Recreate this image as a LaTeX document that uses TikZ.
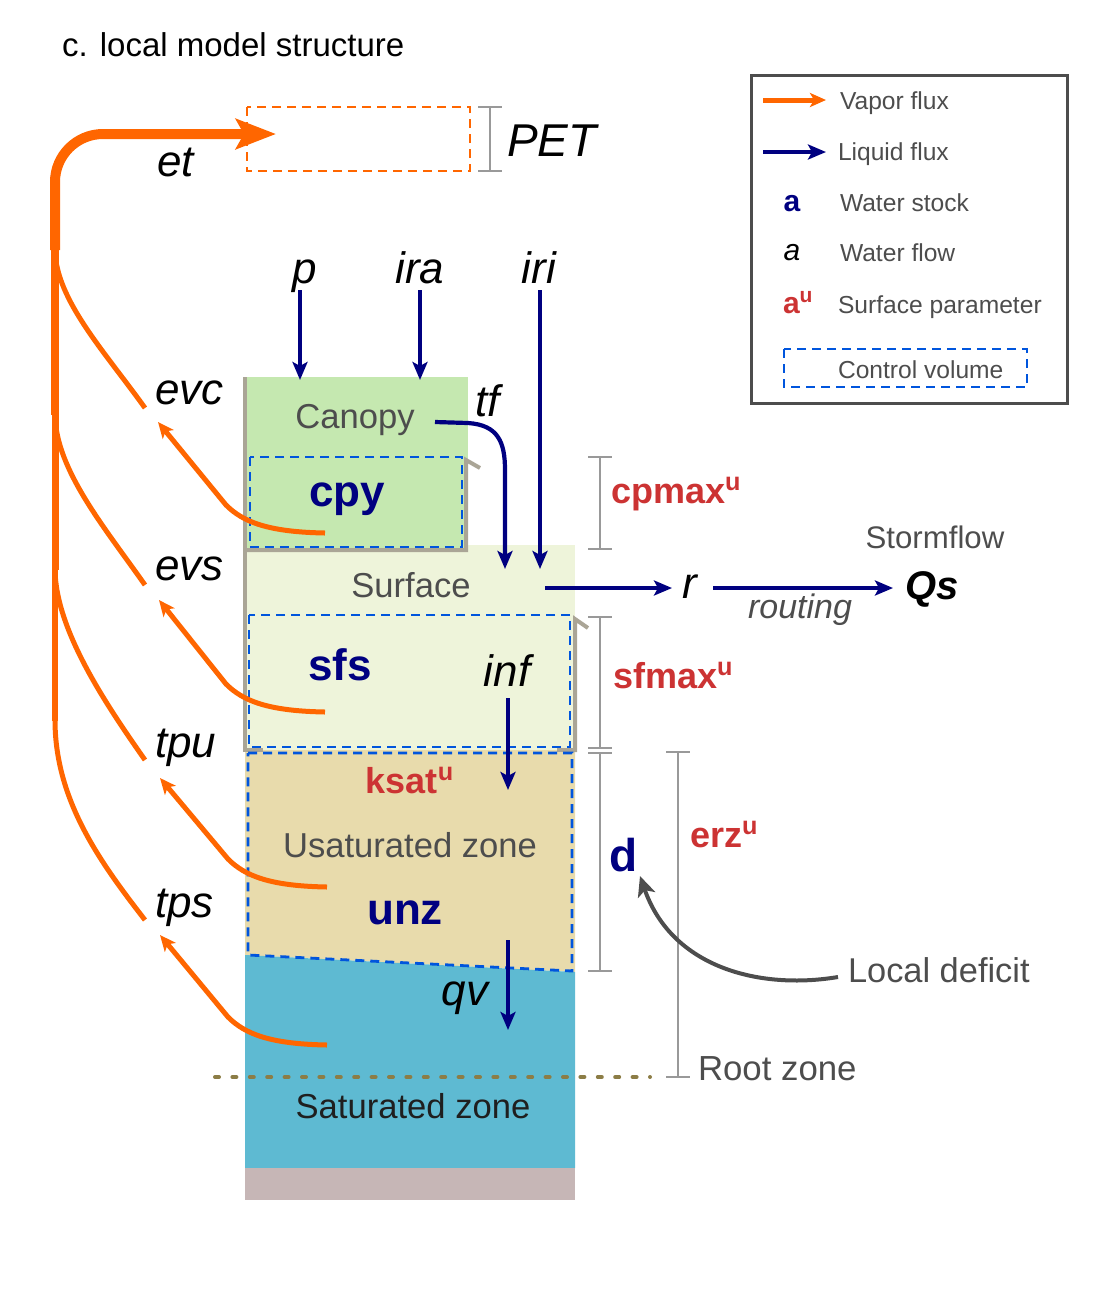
\documentclass[tikz,border=0pt]{standalone}
\usepackage{fontspec}
\setmainfont{Liberation Sans}
\usetikzlibrary{arrows.meta}
\definecolor{vap}{HTML}{FF6600}
\definecolor{liq}{HTML}{000080}
\definecolor{par}{HTML}{CC3333}
\definecolor{cvb}{HTML}{0055DD}
\definecolor{canf}{HTML}{C5E8B0}
\definecolor{surff}{HTML}{EEF4DA}
\definecolor{unsf}{HTML}{E8DBAC}
\definecolor{satf}{HTML}{5EBAD2}
\definecolor{bedf}{HTML}{C6B6B6}
\definecolor{wallc}{HTML}{AAA596}
\definecolor{brk}{HTML}{999999}
\definecolor{txg}{HTML}{4D4D4D}
\definecolor{dotc}{HTML}{8C7D46}
\newcommand{\fsz}[1]{\fontsize{#1}{#1}\selectfont}
\tikzset{
  lbl/.style={inner sep=0pt, outer sep=0pt},
  flowlbl/.style={lbl, font=\fsz{22pt}\itshape, text=black},
  storelbl/.style={lbl, font=\fsz{22pt}\bfseries, text=liq},
  zonelbl/.style={lbl, font=\fsz{17.3pt}, text=txg},
  parlbl/.style={lbl, font=\fsz{18pt}\bfseries, text=par},
  leglbl/.style={lbl, font=\fsz{12.3pt}, text=txg, anchor=base west},
  liqarrow/.style={draw=liq, line width=2.1pt, -{Stealth[length=9pt,width=7.5pt,inset=2pt]}},
  vaparrow/.style={draw=vap, line width=2.5pt, -{Stealth[length=8pt,width=7pt,inset=2pt]}},
  vapline/.style={draw=vap, line width=2.5pt},
  cvbox/.style={draw=cvb, line width=1.4pt, dash pattern=on 4.5pt off 3pt},
  wallline/.style={draw=wallc, line width=2pt},
  brkline/.style={draw=brk, line width=1.4pt},
}
\begin{document}
\begin{tikzpicture}[x=0.5pt,y=-0.5pt]
\useasboundingbox (0,0) rectangle (1102,1303);

% ---------- soil column fills ----------
\fill[surff] (245,545) rectangle (575,750);
\fill[canf] (245,377) rectangle (468,550);
\fill[unsf] (245,750) -- (575,750) -- (575,972) -- (245,955) -- cycle;
\fill[satf] (245,955) -- (575,972) -- (575,1168) -- (245,1168) -- cycle;
\fill[bedf] (245,1168) rectangle (575,1200);

% ---------- walls ----------
\draw[wallline] (245,377) -- (245,752);
\draw[wallline] (245,550) -- (466,550) -- (466,460) -- (480,468);
\draw[wallline] (575,752) -- (575,619) -- (588,628);
\draw[wallline] (245,750) -- (263,750);
\draw[wallline] (557,750) -- (575,750);

% ---------- control volumes ----------
\draw[cvbox] (250,457) rectangle (462,547);
\draw[cvbox] (249,615) rectangle (570,747);
\draw[cvbox] (248,753) -- (572,753) -- (572,971) -- (248,955) -- cycle;
\draw[draw=vap, line width=1.2pt, dash pattern=on 4.5pt off 3pt] (247,107) rectangle (470,171);

% ---------- root zone dotted line ----------
\draw[dotc, line width=2pt, line cap=round, dash pattern=on 2pt off 6.7pt] (215,1077) -- (650,1077);

% ---------- brackets ----------
\draw[brkline] (490,107) -- (490,171) (478,107) -- (502,107) (478,171) -- (502,171);
\draw[brkline] (600,457) -- (600,549) (588,457) -- (612,457) (588,549) -- (612,549);
\draw[brkline] (600,617) -- (600,748) (588,617) -- (612,617) (588,748) -- (612,748);
\draw[brkline] (600,753) -- (600,971) (588,753) -- (612,753) (588,971) -- (612,971);
\draw[brkline] (678,752) -- (678,1077) (666,752) -- (690,752) (666,1077) -- (690,1077);

% ---------- text labels ----------
\node[lbl, font=\fsz{16.5pt}, anchor=base west] (title) at (62,56) {c. local model structure};
\node[flowlbl, anchor=base west] (et) at (157,176) {et};
\node[lbl, font=\fsz{23pt}\itshape, anchor=base west] (pet) at (507,156) {PET};
\node[flowlbl, anchor=base] (p) at (305,283) {p};
\node[flowlbl, anchor=base] (ira) at (420,283) {ira};
\node[flowlbl, anchor=base] (iri) at (539,283) {iri};
\node[flowlbl, anchor=base west] (evc) at (155,404) {evc};
\node[flowlbl, anchor=base west] (evs) at (155,580) {evs};
\node[flowlbl, anchor=base west] (tpu) at (155,757) {tpu};
\node[flowlbl, anchor=base west] (tps) at (155,917) {tps};
\node[flowlbl, anchor=base west] (tf) at (475,416) {tf};
\node[zonelbl, anchor=base] (canopy) at (355,428) {Canopy};
\node[storelbl, anchor=base] (cpy) at (347,506) {cpy};
\node[zonelbl, anchor=base] (surface) at (411,597) {Surface};
\node[storelbl, anchor=base] (sfs) at (340,680) {sfs};
\node[flowlbl, anchor=base] (inf) at (507,686) {inf};
\node[parlbl, anchor=base] (ksat) at (410,793) {ksat\textsuperscript{u}};
\node[zonelbl, anchor=base] (unsat) at (410,857) {Usaturated zone};
\node[storelbl, anchor=base] (unz) at (405,924) {unz};
\node[flowlbl, anchor=base] (qv) at (465,1005) {qv};
\node[lbl, font=\fsz{17.3pt}, text=black!88, anchor=base] (satz) at (413,1118) {Saturated zone};
\node[parlbl, anchor=base west] (cpmax) at (611,503) {cpmax\textsuperscript{u}};
\node[parlbl, anchor=base west] (sfmax) at (613,688) {sfmax\textsuperscript{u}};
\node[parlbl, anchor=base west] (erz) at (690,847) {erz\textsuperscript{u}};
\node[lbl, font=\fsz{23pt}\bfseries, text=liq, anchor=base west] (d) at (609,871) {d};
\node[lbl, font=\fsz{15.6pt}, text=txg, anchor=base] (storm) at (935,548) {Stormflow};
\node[flowlbl, anchor=base] (r) at (690,598) {r};
\node[lbl, font=\fsz{20pt}\bfseries\itshape, anchor=base] (qs) at (932,599) {Qs};
\node[lbl, font=\fsz{17pt}\itshape, text=txg, anchor=base] (routing) at (800,618) {routing};
\node[lbl, font=\fsz{17.2pt}, text=txg, anchor=base west] (ldef) at (848,982) {Local deficit};
\node[lbl, font=\fsz{17.4pt}, text=txg, anchor=base west] (rootz) at (698,1080) {Root zone};

% ---------- liquid fluxes ----------
\coordinate (pS) at (300,290);   \coordinate (pE) at (300,380);
\coordinate (iraS) at (420,290); \coordinate (iraE) at (420,380);
\coordinate (iriS) at (540,290); \coordinate (iriE) at (540,569);
\draw[liqarrow] (pS) -- (pE);
\draw[liqarrow] (iraS) -- (iraE);
\draw[liqarrow] (iriS) -- (iriE);
\coordinate (tfS) at (435,422); \coordinate (tfE) at (505,569);
\draw[liqarrow] (tfS) -- (468,423) .. controls (498,425) and (505,442) .. (505,470) -- (tfE);
\coordinate (rS) at (545,588); \coordinate (rE) at (672,588);
\draw[liqarrow] (rS) -- (rE);
\coordinate (qsS) at (713,588); \coordinate (qsE) at (893,588);
\draw[liqarrow] (qsS) -- (qsE);
\coordinate (infS) at (508,698); \coordinate (infE) at (508,790);
\draw[liqarrow] (infS) -- (infE);
\coordinate (qvS) at (508,940); \coordinate (qvE) at (508,1030);
\draw[liqarrow] (qvS) -- (qvE);

% ---------- local deficit arrow ----------
\coordinate (ldS) at (838,977); \coordinate (ldE) at (640,876);
\draw[draw=txg, line width=2pt, -{Stealth[length=10pt,width=9pt,inset=2.5pt]}] (ldS) .. controls (760,990) and (672,968) .. (ldE);

% ---------- vapor fluxes: stores to labels ----------
\draw[vaparrow] (325,533) .. controls (268,532) and (243,522) .. (226,505) -- (158,422);
\draw[vaparrow] (325,712) .. controls (268,711) and (243,701) .. (226,684) -- (159,600);
\draw[vaparrow] (327,887) .. controls (270,886) and (245,876) .. (228,859) -- (160,778);
\draw[vaparrow] (327,1045) .. controls (270,1044) and (245,1034) .. (228,1017) -- (160,935);

% ---------- vapor fluxes: labels to et trunk ----------
\draw[vapline] (145,408) .. controls (105,352) and (56,300) .. (55,250);
\draw[vapline] (145,585) .. controls (105,528) and (56,470) .. (55,415);
\draw[vapline] (145,760) .. controls (105,703) and (56,630) .. (55,570);
\draw[vapline] (145,920) .. controls (100,862) and (55,800) .. (55,720);
\draw[draw=vap, line width=3pt] (55,721) -- (55,569);
\draw[draw=vap, line width=3.5pt] (55,570) -- (55,414);
\draw[draw=vap, line width=4.2pt] (55,415) -- (55,249);
\coordinate (etE) at (276,134);
\draw[draw=vap, line width=5pt, rounded corners=24pt, -{Stealth[length=20pt,width=15pt,inset=4pt]}] (55,250) |- (etE);

% ---------- legend ----------
\draw[draw=txg, line width=1.5pt] (751,75) rectangle (1067,403);
\coordinate (lv1) at (763,100); \coordinate (lv2) at (826,100);
\draw[vaparrow] (lv1) -- (lv2);
\node[leglbl] (lvap) at (840,109) {Vapor flux};
\coordinate (ll1) at (763,152); \coordinate (ll2) at (826,152);
\draw[liqarrow] (ll1) -- (ll2);
\node[leglbl] (lliq) at (838,160) {Liquid flux};
\node[lbl, font=\fsz{15pt}\bfseries, text=liq, anchor=base] (la1) at (792,211) {a};
\node[leglbl] (lstock) at (840,211) {Water stock};
\node[lbl, font=\fsz{15pt}\itshape, text=black, anchor=base] (la2) at (792,260) {a};
\node[leglbl] (lflow) at (840,261) {Water flow};
\node[lbl, font=\fsz{15pt}\bfseries, text=par, anchor=base west] (la3) at (783,313) {a\textsuperscript{u}};
\node[leglbl] (lpar) at (838,313) {Surface parameter};
\draw[cvbox] (784,349) rectangle (1027,387);
\node[leglbl] (lcv) at (838,378) {Control volume};
\end{tikzpicture}
\end{document}
